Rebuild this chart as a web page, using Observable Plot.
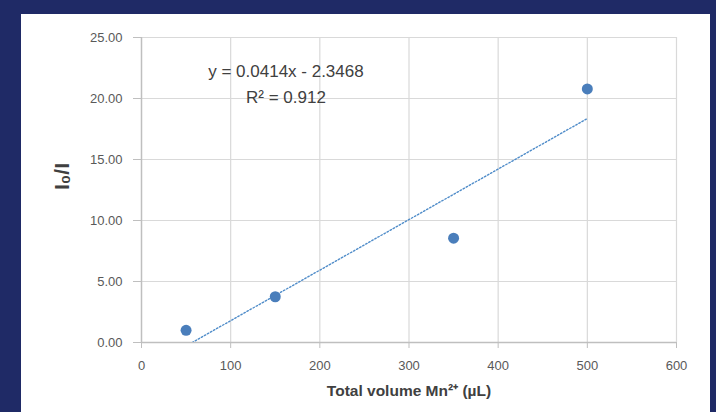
<!DOCTYPE html>
<html>
<head>
<meta charset="utf-8">
<script src="https://cdn.jsdelivr.net/npm/d3@7"></script>
<script src="https://cdn.jsdelivr.net/npm/@observablehq/plot@0.6"></script>
<style>
  html, body { margin: 0; padding: 0; width: 716px; height: 412px; overflow: hidden; background: #1f2a66; }
  #panel { position: absolute; left: 21px; top: 14px; width: 689px; height: 398px; background: #ffffff; }
</style>
</head>
<body>
<div id="panel"></div>
<script>
const volumes = [50, 150, 350, 500];
const ratios = [1.0, 3.75, 8.55, 20.78];
const xTicks = [0, 100, 200, 300, 400, 500, 600];
const yTicks = [0, 5, 10, 15, 20, 25];
const xLabel = "Total volume Mn²⁺ (µL)";
const yLabel = "I₀/I";
const eqLines = ["y = 0.0414x - 2.3468", "R² = 0.912"];
const eqX = [162, 162];
const eqY = [22.2, 20.1];

const points = volumes.map((v, i) => ({x: v, y: ratios[i]}));
const eq = eqLines.map((t, i) => ({t, x: eqX[i], y: eqY[i]}));
const font = "Liberation Sans, Arial, sans-serif";

const chart = Plot.plot({
  width: 689,
  height: 398,
  marginLeft: 120,
  marginRight: 34,
  marginTop: 23,
  marginBottom: 70,
  style: {background: "#ffffff", fontFamily: font},
  x: {domain: [0, 600]},
  y: {domain: [0, 25]},
  marks: [
    Plot.gridX(xTicks, {stroke: "#d9d9d9", strokeOpacity: 1, strokeWidth: 1.2}),
    Plot.gridY(yTicks, {stroke: "#d9d9d9", strokeOpacity: 1, strokeWidth: 1.2}),
    Plot.ruleY([0], {stroke: "#bfbfbf", strokeWidth: 1.4}),
    Plot.ruleX([0], {stroke: "#bfbfbf", strokeWidth: 1.4}),
    Plot.axisY({ticks: yTicks, tickFormat: d => d.toFixed(2), tickSize: 8, tickPadding: 11,
      stroke: "#bfbfbf", fill: "#595959", fontSize: 13, label: null}),
    Plot.axisX({ticks: xTicks, tickFormat: d => String(d), tickSize: 6, tickPadding: 12,
      stroke: "#bfbfbf", fill: "#595959", fontSize: 13, label: null}),
    Plot.linearRegressionY(points, {x: "x", y: "y", ci: 0, stroke: "#4f8cc9", strokeWidth: 1.4,
      strokeDasharray: "1.5,2", clip: true}),
    Plot.dot(points, {x: "x", y: "y", r: 5.5, fill: "#4a7ebb", stroke: "none"}),
    Plot.text(eq, {x: "x", y: "y", text: "t", fontSize: 17, fill: "#404040", textAnchor: "middle"}),
    Plot.text([xLabel], {frameAnchor: "bottom", dy: 53, fontSize: 15.5, fontWeight: "bold", fill: "#404040"}),
    Plot.text([yLabel], {frameAnchor: "left", dx: -79, rotate: -90, fontSize: 21, fontWeight: "bold", fill: "#404040"})
  ]
});
document.getElementById("panel").appendChild(chart);
</script>
</body>
</html>
